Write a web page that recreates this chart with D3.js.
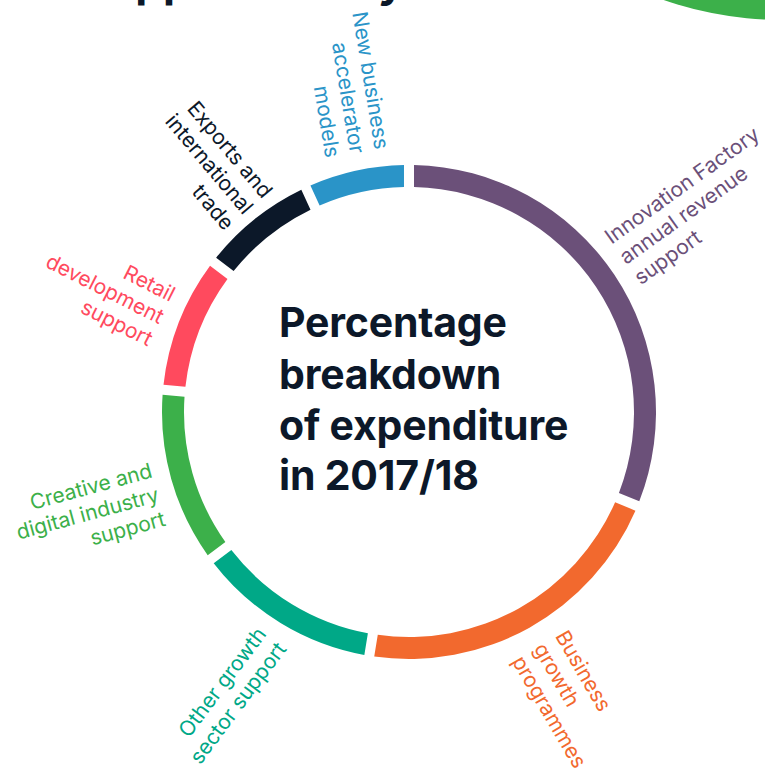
<!DOCTYPE html>
<html><head><meta charset="utf-8">
<script src="https://cdn.jsdelivr.net/npm/d3@7"></script>
<style>html,body{margin:0;padding:0;background:#fff;overflow:hidden}</style>
</head><body>
<svg id="c" width="765" height="776"></svg>
<script>
const categories = ["Innovation Factory annual revenue support","Business growth programmes","Other growth sector support","Creative and digital industry support","Retail development support","Exports and international trade","New business accelerator models"];
const values = [31.8, 21.6, 12.2, 11.5, 8.8, 7.5, 6.6];
const labelLines = [
  ["Innovation Factory","annual revenue","support"],
  ["Business","growth","programmes"],
  ["Other growth","sector support"],
  ["Creative and","digital industry","support"],
  ["Retail","development","support"],
  ["Exports and","international","trade"],
  ["New business","accelerator","models"]
];
const colors = ["#6b5079","#f2692e","#00a887","#3cb04a","#ff4a5e","#0c1829","#2a94c8"];
const titleLines = ["Percentage","breakdown","of expenditure","in 2017/18"];
const headingWords = ["Support", "activity"];

const svg = d3.select("#c");
const W = 765, H = 776;
const cx = 409, cy = 412, rOuter = 247, rInner = 225, rLabel = 264;
// hand-placed label tweaks (degrees): rotation and angular shift, radius shift
const rotTweak = [0, -1, 5.5, 3, 6, -1.5, 2];
const angTweak = [-1.8, 0, 0, -2.5, -0.5, 0, 1];
const radTweak = [-2, 3, 0, 0, 0, -7, 0];

// decorative pieces of the page above
svg.append("circle").attr("cx", 782).attr("cy", -340).attr("r", 360).attr("fill", "#3cb04a");
const h1 = svg.append("text").attr("x", 79).attr("y", -3)
  .attr("font-family", "Inter").attr("font-weight", 700).attr("font-size", 44)
  .attr("fill", "#0c1829").text(headingWords[0]);
const h2 = svg.append("text").attr("y", -3)
  .attr("font-family", "Inter").attr("font-weight", 700).attr("font-size", 44)
  .attr("fill", "#0c1829").text(headingWords[1]);
const preY = h2.node().getSubStringLength(0, headingWords[1].length - 1);
h2.attr("x", 378 - preY);

const g = svg.append("g").attr("transform", `translate(${cx},${cy})`);
const pie = d3.pie().value(d => d).sort(null).padAngle(0.03);
const arcs = pie(values);
const arc = d3.arc().innerRadius(rInner).outerRadius(rOuter);

g.selectAll("path.seg").data(arcs).join("path")
  .attr("class", "seg").attr("d", arc).attr("fill", (d, i) => colors[i]);

const lh = 25;
arcs.forEach((d, i) => {
  const a = (d.startAngle + d.endAngle) / 2 + angTweak[i] * Math.PI / 180;
  const deg = a * 180 / Math.PI;
  const r = rLabel + radTweak[i];
  const x = Math.sin(a) * r, y = -Math.cos(a) * r;
  const flip = a > Math.PI;
  const rot = (flip ? deg - 270 : deg - 90) + rotTweak[i];
  const lines = labelLines[i];
  const t = g.append("text")
    .attr("transform", `translate(${x},${y}) rotate(${rot})`)
    .attr("text-anchor", flip ? "end" : "start")
    .attr("font-family", "Inter").attr("font-weight", 400).attr("font-size", 21)
    .attr("fill", colors[i]);
  lines.forEach((s, j) => {
    t.append("tspan").attr("x", 0)
      .attr("y", (j - (lines.length - 1) / 2) * lh + 7)
      .text(s);
  });
});

const tt = svg.append("text").attr("font-family", "Inter").attr("font-weight", 700)
  .attr("font-size", 41).attr("letter-spacing", -0.2).attr("fill", "#0c1829");
const baselines = [337, 389, 440, 490];
titleLines.forEach((s, j) => {
  tt.append("tspan").attr("x", 279).attr("y", baselines[j]).text(s);
});
</script>
</body></html>
